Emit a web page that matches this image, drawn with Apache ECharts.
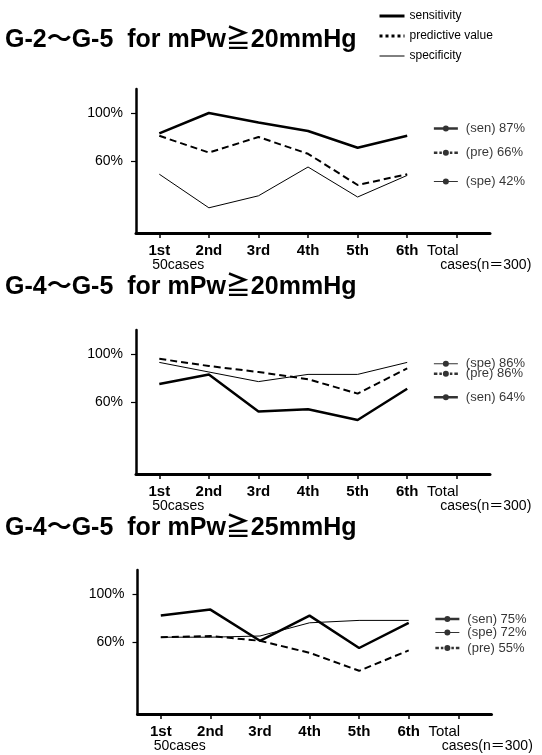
<!DOCTYPE html>
<html><head><meta charset="utf-8">
<script src="https://cdn.jsdelivr.net/npm/echarts@6/dist/echarts.min.js"></script>
<style>html,body{margin:0;padding:0;background:#fff}#c{width:542px;height:755px}</style>
</head><body><div id="c"></div>
<script>
// ---------- data ----------
const xLabels = ['1st', '2nd', '3rd', '4th', '5th', '6th', 'Total'];
const xSubFirst = '50cases';
const xSubTotal = 'cases(n＝300)';
const yTickValues = [60, 100];
const titles = [
  'G-2～G-5  for mPw≧20mmHg',
  'G-4～G-5  for mPw≧20mmHg',
  'G-4～G-5  for mPw≧25mmHg'
];
// panel 1: G-2~G-5, mPw>=20
const p1Sen = [83, 100, 92, 85, 71, 81];
const p1Pre = [81, 67, 80, 66, 40, 49];
const p1Spe = [49, 21, 31, 55, 30, 48];
// panel 2: G-4~G-5, mPw>=20
const p2Sen = [75, 83, 52, 54, 45, 71];
const p2Pre = [96, 90, 85, 79, 67, 88];
const p2Spe = [93, 85, 77, 83, 83, 93];
// panel 3: G-4~G-5, mPw>=25
const p3Sen = [82, 87, 61, 82, 55, 76];
const p3Pre = [64, 65, 61, 51, 36, 53];
const p3Spe = [64, 64, 65, 76, 78, 78];
// totals (n=300) for panels 1..3
const totalSen = [87, 64, 75];
const totalPre = [66, 86, 55];
const totalSpe = [42, 86, 72];

// ---------- style / layout ----------
const FONT = "'Liberation Sans', Arial, 'Noto Sans CJK JP', sans-serif";
const TOTAL_X = 6.78;
const grids = [
  {left: 136, top: 89, width: 354, height: 144},
  {left: 136, top: 330, width: 354, height: 144},
  {left: 137.5, top: 570, width: 354, height: 144}
];
const titleTops = [28, 275, 516];
const SYM_SEN = 'path://M0,1.75L24,1.75L24,4.25L0,4.25Z M9,3A3,3 0 1,1 15,3A3,3 0 1,1 9,3Z';
const SYM_PRE = 'path://M0,1.75L3.5,1.75L3.5,4.25L0,4.25Z M5.5,1.75L8,1.75L8,4.25L5.5,4.25Z M9,3A3,3 0 1,1 15,3A3,3 0 1,1 9,3Z M16,1.75L18.5,1.75L18.5,4.25L16,4.25Z M20.5,1.75L24,1.75L24,4.25L20.5,4.25Z';
const SYM_SPE = 'path://M0,2.5L24,2.5L24,3.5L0,3.5Z M9,3A3,3 0 1,1 15,3A3,3 0 1,1 9,3Z';

const panels = [
  {sen: p1Sen, pre: p1Pre, spe: p1Spe},
  {sen: p2Sen, pre: p2Pre, spe: p2Spe},
  {sen: p3Sen, pre: p3Pre, spe: p3Spe}
];
const metrics = [
  {key: 'sen', name: 'sensitivity', tag: '(sen)', totals: totalSen, line: {width: 2.5, type: 'solid'}, sym: SYM_SEN, offs: [0, 0, -5]},
  {key: 'pre', name: 'predictive value', tag: '(pre)', totals: totalPre, line: {width: 2, type: [7, 4]}, sym: SYM_PRE, offs: [-1, 3, 0]},
  {key: 'spe', name: 'specificity', tag: '(spe)', totals: totalSpe, line: {width: 1, type: 'solid'}, sym: SYM_SPE, offs: [-1, -7, 5]}
];

const xTickValues = xLabels.map((_, i) => i + 1);
const xSubValues = [1, xLabels.length];
function xFormatter(v) {
  const idx = Math.round(v) - 1;
  const lab = xLabels[idx];
  if (idx === xLabels.length - 1) return '{t|' + lab + '}';
  return '{a|' + lab + '}';
}
function xSubFormatter(v) {
  const idx = Math.round(v) - 1;
  return idx === 0 ? '{b|' + xSubFirst + '}' : '{c|' + xSubTotal + '}';
}

const xAxes = [];
grids.forEach((g, i) => {
  xAxes.push({
    gridIndex: i, type: 'value', min: 0.53, max: 7.67, position: 'bottom',
    splitLine: {show: false},
    axisLine: {show: true, onZero: false, lineStyle: {color: '#000', width: 3}},
    axisTick: {show: true, customValues: xTickValues, length: 5, lineStyle: {color: '#000', width: 1.5}},
    axisLabel: {
      customValues: xTickValues, formatter: xFormatter, margin: 11, color: '#000',
      showMinLabel: true, showMaxLabel: true, hideOverlap: false,
      rich: {
        a: {fontSize: 15, fontWeight: 'bold', lineHeight: 14, color: '#000', fontFamily: FONT},
        t: {fontSize: 15, lineHeight: 14, padding: [0, 28, 0, 0], color: '#000', fontFamily: FONT}
      }
    }
  });
});
grids.forEach((g, i) => {
  xAxes.push({
    gridIndex: i, type: 'value', min: 0.53, max: 7.67, position: 'bottom', offset: 0,
    splitLine: {show: false},
    axisLine: {show: false, onZero: false},
    axisTick: {show: false},
    axisLabel: {
      customValues: xSubValues, formatter: xSubFormatter, margin: 25, color: '#000',
      showMinLabel: true, showMaxLabel: true, hideOverlap: false,
      rich: {
        b: {fontSize: 14, lineHeight: 14, padding: [0, 0, 0, 38], color: '#000', fontFamily: FONT},
        c: {fontSize: 14, lineHeight: 14, padding: [0, 0, 0, 58], color: '#000', fontFamily: FONT}
      }
    }
  });
});
const yAxes = grids.map((g, i) => ({
  gridIndex: i, type: 'value', min: 0, max: 120,
  splitLine: {show: false},
  axisLine: {show: true, onZero: false, lineStyle: {color: '#000', width: 2.5}},
  axisTick: {show: true, customValues: yTickValues, length: 5, lineStyle: {color: '#000', width: 1.2}},
  axisLabel: {customValues: yTickValues, formatter: '{value}%', fontSize: 14, margin: 13, color: '#000', fontFamily: FONT}
}));

const series = [];
panels.forEach((p, i) => {
  metrics.forEach(m => {
    series.push({
      type: 'line', name: m.name, xAxisIndex: i, yAxisIndex: i,
      symbol: 'none', silent: true,
      lineStyle: {color: '#000', width: m.line.width, type: m.line.type},
      itemStyle: {color: '#000'},
      data: p[m.key].map((v, j) => [j + 1, v])
    });
    series.push({
      type: 'scatter', name: m.name + ' total', xAxisIndex: i, yAxisIndex: i,
      symbol: m.sym, symbolSize: [24, 6], symbolOffset: [0, m.offs[i]], silent: true,
      itemStyle: {color: '#000'},
      label: {show: true, position: 'right', distance: 8, color: '#000', fontSize: 13, fontFamily: FONT,
        formatter: m.tag + ' ' + m.totals[i] + '%'},
      data: [[TOTAL_X, m.totals[i]]]
    });
  });
});

const chart = echarts.init(document.getElementById('c'), null, {renderer: 'canvas'});
chart.setOption({
  animation: false,
  backgroundColor: '#fff',
  textStyle: {fontFamily: FONT, color: '#000'},
  title: titles.map((t, i) => ({
    text: t, left: 5, top: titleTops[i], padding: 0,
    textStyle: {fontSize: 25, fontWeight: 'bold', color: '#000', fontFamily: FONT}
  })),
  legend: {
    orient: 'vertical', left: 378, top: 10, padding: 0,
    itemWidth: 25, itemHeight: 10, itemGap: 8, selectedMode: false,
    itemStyle: {opacity: 0},
    textStyle: {fontSize: 12, color: '#000', fontFamily: FONT},
    data: [
      {name: 'sensitivity', lineStyle: {width: 3}},
      {name: 'predictive value', lineStyle: {type: [3, 3], width: 3}},
      {name: 'specificity', lineStyle: {width: 1}}
    ]
  },
  grid: grids,
  xAxis: xAxes,
  yAxis: yAxes,
  series: series
});
</script></body></html>
